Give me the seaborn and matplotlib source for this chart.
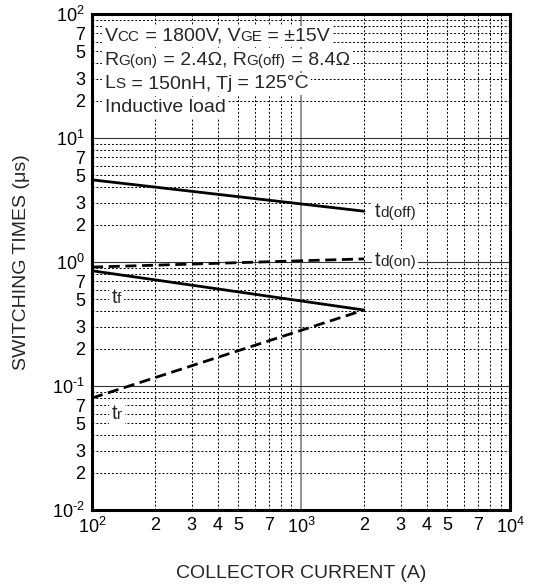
import numpy as np
import pandas as pd
import matplotlib
matplotlib.use('Agg')
import matplotlib.pyplot as plt
import matplotlib.ticker as mticker
from matplotlib.offsetbox import TextArea, HPacker, AnnotationBbox
import seaborn as sns

# values
current = [100, 2000]
td_off = [4.6, 2.57]
td_on = [0.91, 1.06]
t_f = [0.85, 0.41]
t_r = [0.08, 0.41]

x_minor_labels = {2: '2', 3: '3', 4: '4', 5: '5', 7: '7'}
y_minor_labels = {2: '2', 3: '3', 5: '5', 7: '7'}

sns.set_theme(style='white')
plt.rcParams['font.family'] = ['Liberation Sans', 'DejaVu Sans']
plt.rcParams['mathtext.fontset'] = 'custom'
plt.rcParams['mathtext.rm'] = 'Liberation Sans'
plt.rcParams['mathtext.it'] = 'Liberation Sans'

fig = plt.figure(figsize=(5.33, 5.84), dpi=100)
ax = fig.add_axes([0.1726, 0.1267, 0.7844, 0.8493])
ax.set_xscale('log')
ax.set_yscale('log')
ax.set_xlim(1e2, 1e4)
ax.set_ylim(1e-2, 1e2)

# grid
ax.xaxis.set_minor_locator(mticker.LogLocator(base=10, subs=np.arange(2, 10)))
ax.yaxis.set_minor_locator(mticker.LogLocator(base=10, subs=np.arange(2, 10)))
ax.grid(which='minor', color='black', lw=0.7, ls=(0, (2, 2)))
ax.grid(which='major', axis='y', color='#333333', lw=0.8, ls='-')
ax.grid(which='major', axis='x', color='#808080', lw=1.2, ls='-')
ax.set_axisbelow(True)

# curves
series = [
    ('td_off', td_off, '-'),
    ('td_on', td_on, '--'),
    ('tf', t_f, '-'),
    ('tr', t_r, '--'),
]
for name, vals, ls in series:
    df = pd.DataFrame({'Ic': current, 't': vals})
    sns.lineplot(data=df, x='Ic', y='t', ax=ax, color='black', lw=2.0)
    if ls == '--':
        ax.lines[-1].set_dashes((4, 2))
    ax.lines[-1].set_zorder(5)

# tick labels
def make_fmt(minor_labels):
    def fmt(v, pos):
        e = np.log10(v)
        if abs(e - round(e)) < 1e-6:
            e = int(round(e))
            if e < 0:
                return r'$\mathregular{10^{\text{-}%d}}$' % (-e)
            return r'$\mathregular{10^{%d}}$' % e
        m = int(round(v / 10 ** np.floor(e)))
        return minor_labels.get(m, '')
    return fmt

ax.xaxis.set_major_formatter(mticker.FuncFormatter(make_fmt(x_minor_labels)))
ax.xaxis.set_minor_formatter(mticker.FuncFormatter(make_fmt(x_minor_labels)))
ax.yaxis.set_major_formatter(mticker.FuncFormatter(make_fmt(y_minor_labels)))
ax.yaxis.set_minor_formatter(mticker.FuncFormatter(make_fmt(y_minor_labels)))
ax.tick_params(which='both', length=0, labelsize=13, colors='black')
ax.tick_params(axis='x', which='both', pad=5)
ax.tick_params(axis='y', which='both', pad=5)

for sp in ax.spines.values():
    sp.set_linewidth(2.2)
    sp.set_color('black')

ax.set_xlabel('COLLECTOR CURRENT (A)', fontsize=14, labelpad=20)
ax.set_ylabel('SWITCHING TIMES (\u03bcs)', fontsize=14, labelpad=16)

# curve labels
def sub_label(x, y, main, sub):
    box = HPacker(children=[TextArea(main, textprops=dict(fontsize=14.5)),
                            TextArea(sub, textprops=dict(fontsize=11))],
                  align='baseline', pad=0, sep=0)
    ab = AnnotationBbox(box, (x, y), xycoords='data', box_alignment=(0, 0.5),
                        frameon=True, pad=0.15,
                        bboxprops=dict(facecolor='white', edgecolor='none'))
    ab.set_zorder(6)
    ax.add_artist(ab)

sub_label(2250, 2.55, 't', 'd(off)')
sub_label(2250, 1.02, 't', 'd(on)')
sub_label(124, 0.52, 't', 'f')
sub_label(124, 0.06, 't', 'r')

# condition text
cond_lines = [
    [('V', 14), ('CC', 11), (' = 1800V, V', 14), ('GE', 11), (' = \u00b115V', 14)],
    [('R', 14), ('G(on)', 11), (' = 2.4\u03a9, R', 14), ('G(off)', 11), (' = 8.4\u03a9', 14)],
    [('L', 14), ('S', 11), (' = 150nH, T', 14), ('j', 14), (' = 125\u00b0C', 14)],
    [('Inductive load', 14)],
]
y0 = 0.955
for i, parts in enumerate(cond_lines):
    box = HPacker(children=[TextArea(s, textprops=dict(fontsize=fs)) for s, fs in parts],
                  align='baseline', pad=0, sep=0)
    ab = AnnotationBbox(box, (0.03, y0 - i * 0.048), xycoords='axes fraction',
                        box_alignment=(0, 0.5), frameon=True, pad=0.15,
                        bboxprops=dict(facecolor='white', edgecolor='none'))
    ab.set_zorder(6)
    ax.add_artist(ab)

fig.savefig('out.png', dpi=100)
